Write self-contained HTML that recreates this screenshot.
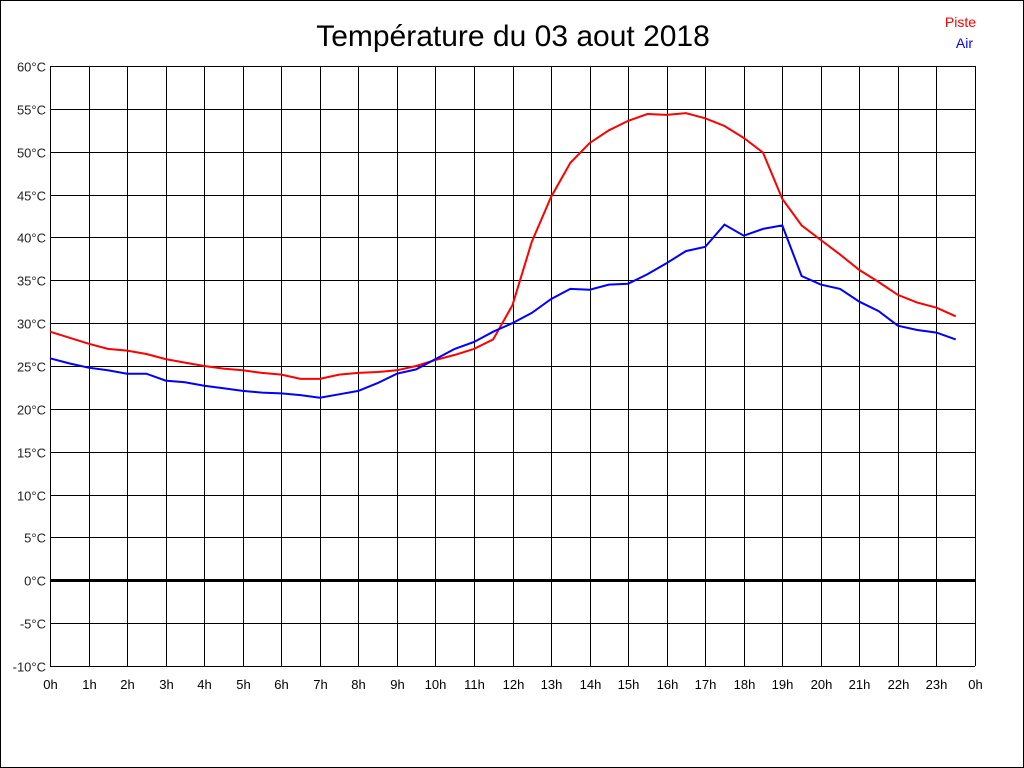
<!DOCTYPE html>
<html><head><meta charset="utf-8"><style>
html,body{margin:0;padding:0;background:#fff}
svg{display:block}
text{font-family:"Liberation Sans",Arial,sans-serif}
</style></head><body>
<svg id="s" width="1024" height="768" xmlns="http://www.w3.org/2000/svg">
<rect x="0.5" y="0.5" width="1023" height="767" fill="#fff" stroke="#000"/>
<text x="513" y="46" font-size="30" text-anchor="middle">Température du 03 aout 2018</text>
<text x="976" y="27" font-size="14" fill="#f00" text-anchor="end">Piste</text>
<text x="973" y="48" font-size="14" fill="#00f" text-anchor="end">Air</text>
<g id="g"></g>
</svg>
<script>
var g=document.getElementById('g'),h='';
var X0=50,X1=975,Y0=66,Y1=666;
function X(t){return X0+(X1-X0)*t/24}
function Y(v){return Y0+(60-v)*(Y1-Y0)/70}
for(var i=0;i<=24;i++){var x=Math.round(X(i))+0.5;h+='<line x1="'+x+'" y1="'+Y0+'" x2="'+x+'" y2="'+Y1+'" stroke="#000"/>';
h+='<text x="'+x+'" y="689" font-size="13" text-anchor="middle">'+(i%24)+'h</text>';}
for(var v=-10;v<=60;v+=5){var y=Math.round(Y(v))+0.5;
h+='<line x1="'+X0+'" y1="'+y+'" x2="'+X1+'" y2="'+y+'" stroke="#000" stroke-width="'+(v==0?3:1)+'"/>';
h+='<text x="46" y="'+(y+5)+'" font-size="13" text-anchor="end" fill="#222">'+v+'°C</text>';}
var red=[29,28.3,27.6,27.0,26.8,26.4,25.8,25.4,25.0,24.7,24.5,24.2,24.0,23.5,23.5,24.0,24.2,24.3,24.5,25.0,25.7,26.3,27.0,28.1,32.1,39.5,44.7,48.7,51.0,52.5,53.6,54.4,54.3,54.5,53.9,53.0,51.6,49.9,44.5,41.4,39.7,38.0,36.2,34.8,33.3,32.4,31.8,30.8];
var blue=[25.9,25.3,24.8,24.5,24.1,24.1,23.3,23.1,22.7,22.4,22.1,21.9,21.8,21.6,21.3,21.7,22.1,23.0,24.1,24.6,25.8,27.0,27.8,29.0,30.0,31.2,32.8,34.0,33.9,34.5,34.6,35.7,37.0,38.4,38.9,41.5,40.2,41.0,41.4,35.5,34.5,34.0,32.5,31.4,29.7,29.2,28.9,28.1];
function pl(a,c){var p=a.map(function(v,i){return X(i/2).toFixed(1)+','+Y(v).toFixed(1)}).join(' ');
return '<polyline points="'+p+'" fill="none" stroke="'+c+'" stroke-width="2"/>';}
h+=pl(red,'#f00')+pl(blue,'#00f');
g.innerHTML=h;
</script>
</body></html>
